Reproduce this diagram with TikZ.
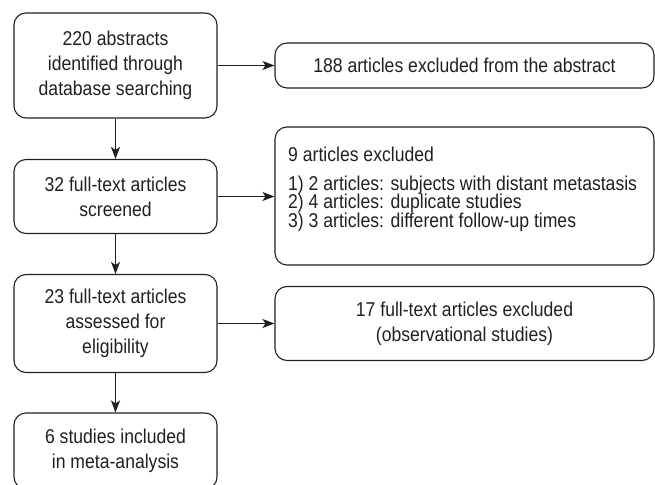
\documentclass[tikz,border=0pt]{standalone}
\usepackage{fontspec}
\setmainfont{Liberation Sans}[FakeStretch=0.88]
\usetikzlibrary{arrows.meta}
\definecolor{ink}{HTML}{231F20}
\begin{document}
\begin{tikzpicture}[x=1pt,y=1pt,
  box/.style={draw=ink, line width=1.1pt, rounded corners=12pt, align=center,
    text=ink, inner sep=0pt, font=\fontsize{20}{25}\selectfont},
  lbl/.style={text=ink, inner sep=0pt, anchor=base west, text height=13pt,
    text depth=4pt, font=\fontsize{20}{25}\selectfont},
  arr/.style={draw=ink, line width=1.1pt, -{Stealth[length=12pt,width=9pt,inset=3pt]}}]
\useasboundingbox (0,0) rectangle (655,484);
\clip (0,0) rectangle (655,484);
\node[box, minimum width=203pt, minimum height=105pt] (b1) at (115.5,418.5)
  {220 abstracts\\identified through\\database searching};
\node[box, minimum width=203pt, minimum height=74pt] (b2) at (115.5,287.5)
  {32 full-text articles\\screened};
\node[box, minimum width=203pt, minimum height=98pt] (b3) at (115.5,160.5)
  {23 full-text articles\\assessed for\\eligibility};
\node[box, minimum width=203pt, minimum height=76pt] (b4) at (115.5,33)
  {6 studies included\\in meta-analysis};
\node[box, minimum width=379pt, minimum height=45pt] (rA) at (464.5,418.5)
  {188 articles excluded from the abstract};
\node[box, minimum width=379pt, minimum height=138pt] (rB) at (464.5,288) {};
\node[box, minimum width=379pt, minimum height=74pt] (rC) at (464.5,160.5)
  {17 full-text articles excluded\\(observational studies)};
\node[lbl] (t0) at (288,322.3) {9 articles excluded};
\node[lbl] (t1) at (288,293.5) {1) 2 articles: subjects with distant metastasis};
\node[lbl] (t2) at (288,275) {2) 4 articles: duplicate studies};
\node[lbl] (t3) at (288,256.5) {3) 3 articles: different follow-up times};
\draw[arr] (b1) -- (b2);
\draw[arr] (b2) -- (b3);
\draw[arr] (b3) -- (b4);
\draw[arr] (b1.east) -- (rA.west);
\draw[arr] (b2.east) -- (b2.east -| rB.west);
\draw[arr] (b3.east) -- (rC.west);
\end{tikzpicture}
\end{document}
